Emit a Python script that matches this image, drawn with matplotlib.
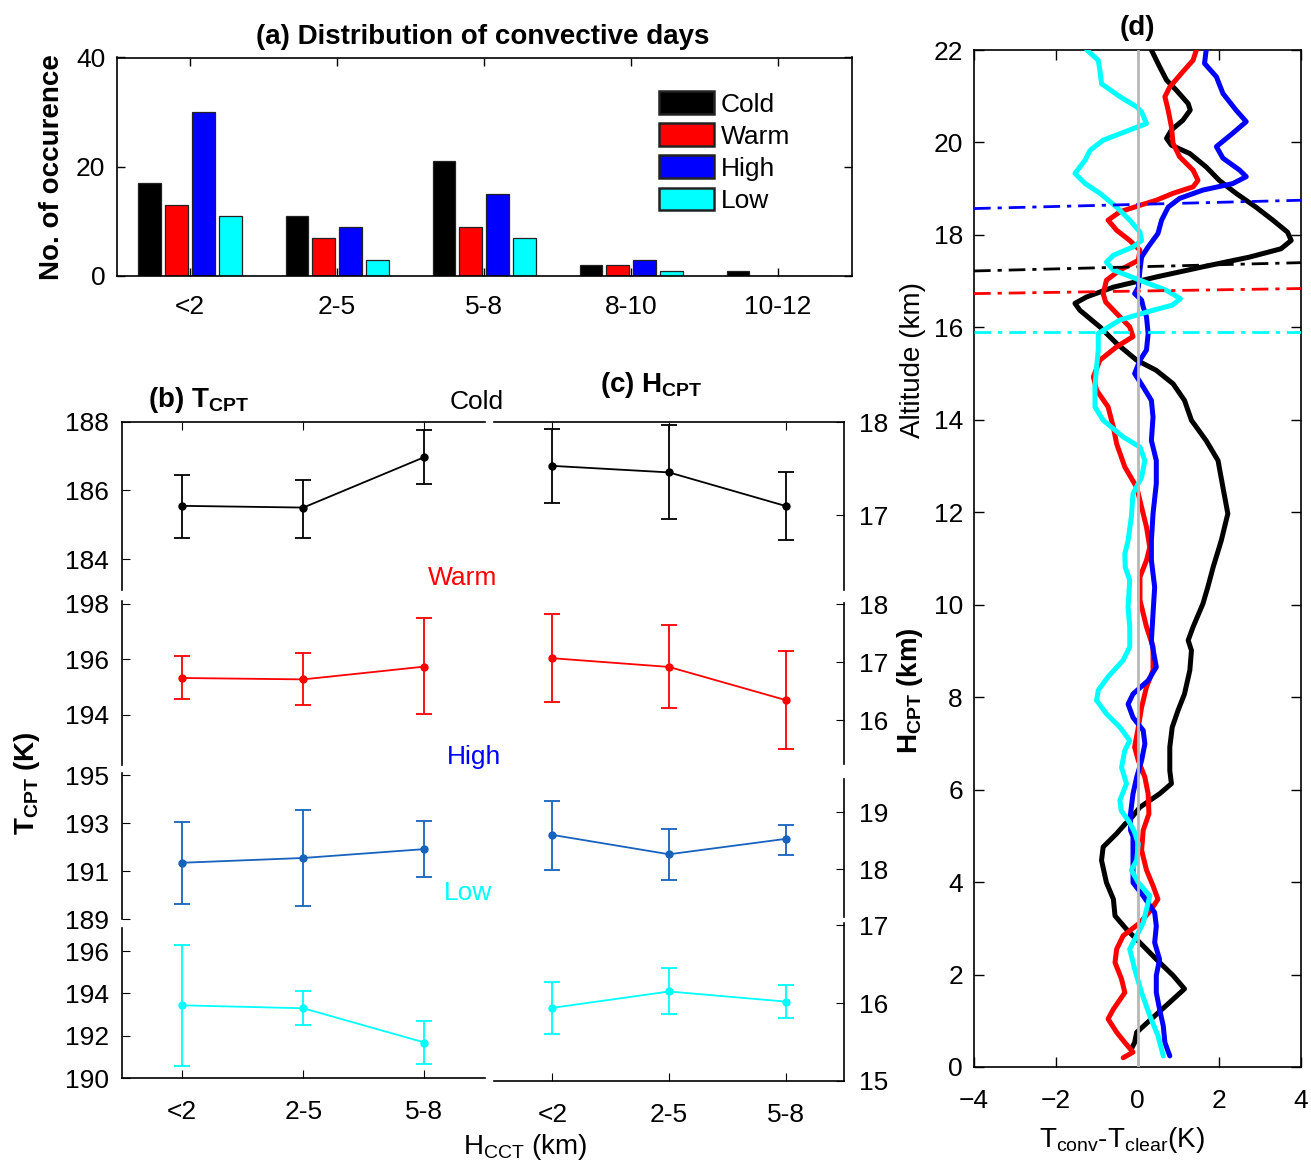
import numpy as np
import matplotlib
matplotlib.use('Agg')
import matplotlib.pyplot as plt

plt.rcParams['font.family'] = ['Liberation Sans', 'DejaVu Sans']
plt.rcParams['font.size'] = 19
plt.rcParams['mathtext.fontset'] = 'custom'
plt.rcParams['mathtext.rm'] = 'Liberation Sans'
plt.rcParams['mathtext.it'] = 'Liberation Sans:italic'
plt.rcParams['mathtext.bf'] = 'Liberation Sans:bold'

# ---- (a) distribution of convective days ----
bin_labels = ['<2', '2-5', '5-8', '8-10', '10-12']
cold_counts = [17, 11, 21, 2, 1]
warm_counts = [13, 7, 9, 2, 0]
high_counts = [30, 9, 15, 3, 0]
low_counts = [11, 3, 7, 1, 0]

# ---- (b) T_CPT and (c) H_CPT vs H_CCT ----
hcct_labels = ['<2', '2-5', '5-8']
tcpt_cold = [185.55, 185.50, 186.97]
tcpt_cold_lo = [184.60, 184.62, 186.18]
tcpt_cold_hi = [186.45, 186.30, 187.75]
tcpt_warm = [195.33, 195.28, 195.74]
tcpt_warm_lo = [194.57, 194.35, 194.02]
tcpt_warm_hi = [196.12, 196.22, 197.48]
tcpt_high = [191.35, 191.55, 191.92]
tcpt_high_lo = [189.61, 189.53, 190.74]
tcpt_high_hi = [193.05, 193.54, 193.09]
tcpt_low = [193.44, 193.30, 191.68]
tcpt_low_lo = [190.57, 192.50, 190.65]
tcpt_low_hi = [196.30, 194.10, 192.71]

hcpt_cold = [17.53, 17.46, 17.10]
hcpt_cold_lo = [17.13, 16.96, 16.74]
hcpt_cold_hi = [17.93, 17.97, 17.46]
hcpt_warm = [17.07, 16.92, 16.35]
hcpt_warm_lo = [16.31, 16.21, 15.51]
hcpt_warm_hi = [17.83, 17.65, 17.19]
hcpt_high = [18.60, 18.26, 18.53]
hcpt_high_lo = [17.98, 17.81, 18.25]
hcpt_high_hi = [19.19, 18.70, 18.77]
hcpt_low = [15.94, 16.15, 16.02]
hcpt_low_lo = [15.60, 15.86, 15.81]
hcpt_low_hi = [16.27, 16.45, 16.23]

# ---- (d) T_conv - T_clear profiles ----
alt_cold = [22.0, 21.64, 21.35, 21.13, 20.84, 20.7, 20.48, 20.27, 20.09, 19.94, 19.76, 19.47,
            19.18, 18.9, 18.6, 18.32, 18.06, 17.88, 17.7, 17.52, 17.31, 17.09, 16.87, 16.66,
            16.52, 16.37, 16.01, 15.65, 15.29, 15.07, 14.78, 14.42, 13.99, 13.55, 13.12, 12.54,
            11.97, 11.39, 10.81, 10.38, 10.02, 9.52, 9.23, 9.01, 8.58, 8.07, 7.71, 7.35, 6.92,
            6.41, 6.13, 5.91, 5.62, 5.41, 5.26, 5.05, 4.76, 4.47, 3.99, 3.63, 3.27, 2.98, 2.69,
            2.33, 1.98, 1.69, 1.4, 1.04, 0.75, 0.53, 0.39]
dt_cold = [0.34, 0.54, 0.71, 0.95, 1.24, 1.29, 1.11, 0.83, 0.71, 0.83, 1.28, 1.68,
           2.0, 2.41, 2.9, 3.31, 3.67, 3.76, 3.51, 2.74, 1.6, 0.46, -0.59, -1.24,
           -1.53, -1.41, -0.92, -0.51, -0.02, 0.46, 0.87, 1.15, 1.32, 1.68, 1.97, 2.09,
           2.21, 2.05, 1.85, 1.72, 1.6, 1.36, 1.24, 1.32, 1.28, 1.15, 0.99, 0.85, 0.79,
           0.79, 0.83, 0.54, 0.06, -0.13, -0.3, -0.51, -0.84, -0.88, -0.76, -0.59, -0.55, -0.27, 0.06,
           0.46, 0.87, 1.15, 0.79, 0.34, -0.02, -0.07, -0.15]

alt_warm = [22.0, 21.78, 21.49, 21.2, 20.99, 20.7, 20.34, 19.98, 19.69, 19.4, 19.18, 19.04,
            18.9, 18.75, 18.64, 18.5, 18.32, 18.1, 17.88, 17.67, 17.45, 17.24, 17.02, 16.73,
            16.55, 16.3, 16.01, 15.8, 15.58, 15.29, 14.93, 14.64, 14.28, 13.84, 13.48, 12.98,
            12.54, 12.11, 11.68, 11.24, 10.96, 10.6, 10.1, 9.52, 9.09, 8.58, 8.22, 7.78, 7.35,
            6.92, 6.63, 6.27, 5.91, 5.48, 5.12, 4.69, 4.26, 3.92, 3.63, 3.41, 3.12, 2.84, 2.55,
            2.26, 1.9, 1.61, 1.25, 1.04, 0.75, 0.53, 0.32, 0.2]
dt_warm = [1.44, 1.36, 1.07, 0.79, 0.67, 0.75, 0.83, 0.87, 1.03, 1.36, 1.48, 1.36,
           0.87, 0.46, 0.06, -0.43, -0.72, -0.51, -0.19, 0.06, 0.02, -0.43, -0.76, -0.84,
           -0.78, -0.51, -0.19, -0.11, -0.51, -0.92, -1.08, -1.0, -0.72, -0.59, -0.51, -0.31,
           -0.02, 0.1, 0.22, 0.3, 0.22, 0.06, 0.06, 0.22, 0.38, 0.38, 0.22, 0.1, 0.02,
           -0.07, 0.02, 0.18, 0.26, 0.28, 0.14, 0.1, 0.22, 0.38, 0.5, 0.34, 0.06, -0.35, -0.51,
           -0.55, -0.39, -0.31, -0.59, -0.72, -0.51, -0.31, -0.11, -0.35]

alt_high = [22.0, 21.71, 21.42, 21.06, 20.7, 20.45, 20.2, 19.91, 19.66, 19.4, 19.26, 19.11,
            18.97, 18.79, 18.6, 18.32, 18.03, 17.74, 17.52, 17.24, 16.87, 16.73, 16.59, 16.44,
            16.23, 15.87, 15.51, 15.29, 15.0, 14.71, 14.42, 14.06, 13.55, 13.12, 12.62, 11.97,
            11.39, 10.96, 10.38, 9.81, 9.23, 8.65, 8.36, 8.07, 7.85, 7.56, 7.28, 6.99, 6.63,
            6.27, 5.91, 5.48, 5.12, 4.98, 4.47, 3.99, 3.7, 3.34, 3.05, 2.69, 2.33, 1.98, 1.61,
            1.25, 0.89, 0.53, 0.24]
dt_high = [1.68, 1.64, 1.93, 2.09, 2.41, 2.66, 2.33, 1.93, 2.09, 2.5, 2.66, 2.33,
           1.6, 1.03, 0.75, 0.59, 0.5, 0.26, 0.1, 0.06, 0.02, -0.07, 0.1, 0.14,
           0.22, 0.26, 0.22, 0.06, -0.07, 0.14, 0.34, 0.38, 0.34, 0.46, 0.46, 0.38,
           0.34, 0.34, 0.42, 0.38, 0.34, 0.46, 0.26, -0.11, -0.23, -0.11, 0.14, 0.18, 0.1,
           -0.02, -0.11, -0.17, -0.17, -0.11, -0.11, -0.11, 0.14, 0.42, 0.46, 0.42, 0.54, 0.46, 0.46,
           0.54, 0.63, 0.67, 0.79]

alt_low = [22.0, 21.78, 21.56, 21.27, 20.99, 20.77, 20.66, 20.41, 20.27, 20.05, 19.83, 19.62,
           19.33, 19.11, 18.9, 18.6, 18.32, 18.06, 17.88, 17.74, 17.56, 17.41, 17.24, 17.02,
           16.8, 16.62, 16.48, 16.37, 16.16, 15.87, 15.51, 15.15, 14.71, 14.28, 13.99, 13.63,
           13.41, 13.12, 12.76, 12.4, 11.9, 11.39, 11.1, 10.81, 10.53, 9.95, 9.52, 9.09, 8.8,
           8.44, 8.15, 7.93, 7.64, 7.35, 7.06, 6.85, 6.48, 6.13, 5.77, 5.55, 5.3, 5.1, 4.83,
           4.47, 4.26, 3.99, 3.7, 3.41, 3.12, 2.84, 2.55, 2.12, 1.61, 1.11, 0.68, 0.24]
dt_low = [-1.24, -0.96, -0.92, -0.88, -0.43, -0.02, 0.1, 0.22, -0.19, -0.84, -1.16, -1.28,
          -1.53, -1.28, -0.92, -0.51, -0.19, 0.06, 0.1, -0.11, -0.59, -0.76, -0.59, 0.06,
          0.71, 1.05, 0.85, 0.38, -0.43, -0.96, -0.96, -1.0, -1.04, -1.04, -0.84, -0.35,
          0.06, 0.18, 0.1, -0.11, -0.15, -0.23, -0.31, -0.3, -0.19, -0.23, -0.19, -0.19, -0.35,
          -0.72, -0.96, -1.0, -0.76, -0.43, -0.19, -0.31, -0.39, -0.27, -0.43, -0.4, -0.2, -0.08, 0.02,
          -0.02, -0.15, 0.02, 0.3, 0.22, 0.14, -0.02, -0.19, -0.07, 0.1, 0.3, 0.5, 0.63]

# cold-point heights drawn as dash-dot lines (left / right ends)
cpt_left = [17.22, 16.73, 18.57, 15.90]
cpt_right = [17.40, 16.84, 18.75, 15.90]

group_names = ['Cold', 'Warm', 'High', 'Low']
bar_colors = ['black', '#ff0000', '#0000ff', '#00ffff']
err_colors = ['black', '#ff0000', '#1662bd', '#00ffff']
label_colors = ['black', '#ff0000', '#0000ff', '#00ffff']
prof_colors = ['black', '#ff0000', '#0000ff', '#00ffff']

W, H = 1311, 1168
fig = plt.figure(figsize=(W / 100, H / 100), dpi=100)


def rect(l, t, r, b):
    return [l / W, 1 - b / H, (r - l) / W, (b - t) / H]


# ---------------- panel (a) ----------------
ax = fig.add_axes(rect(116.5, 57.5, 851.7, 276))
x = np.arange(1, 6)
counts = [cold_counts, warm_counts, high_counts, low_counts]
for i in range(4):
    ax.bar(x + (i - 1.5) * 0.182, counts[i], width=0.155, color=bar_colors[i],
           edgecolor='#222222', linewidth=0.9, label=group_names[i])
ax.set_xlim(0.5, 5.5)
ax.set_ylim(0, 40)
ax.set_yticks([0, 20, 40])
ax.set_xticks(x)
ax.set_xticklabels(bin_labels)
ax.tick_params(direction='in', top=True, right=True, length=6, width=1)
ax.tick_params(axis='x', pad=14)
ax.tick_params(axis='y', pad=8)
for s in ax.spines.values():
    s.set_linewidth(1.2)
leg = ax.legend(loc='upper left', bbox_to_anchor=(0.738, 0.845), frameon=False,
                borderpad=0, borderaxespad=0, handlelength=2.1, handleheight=0.95,
                labelspacing=0.25, handletextpad=0.25, fontsize=19)
for p in leg.get_patches():
    p.set_linewidth(1.8)
fig.text(483 / W, 1 - 37 / H, '(a) Distribution of convective days', fontsize=20,
         fontweight='bold', ha='center', va='center')
fig.text(52 / W, 1 - 167 / H, 'No. of occurence', fontsize=20, fontweight='bold',
         rotation=90, ha='center', va='center')

# ---------------- panels (b) and (c) ----------------
b_rows = [(421.7, 590), (601, 765), (773, 919), (928, 1078)]
c_rows = [(422, 590), (603, 764), (779, 917), (923, 1081)]
b_ylims = [(183.1, 188.0), (192.2, 198.1), (189.1, 195.1), (190.0, 197.1)]
c_ylims = [(16.2, 18.0), (15.25, 18.02), (17.16, 19.58), (15.0, 17.03)]
b_ticks = [[184, 186, 188], [194, 196, 198], [189, 191, 193, 195], [190, 192, 194, 196]]
c_ticks = [[17, 18], [16, 17, 18], [18, 19], [15, 16, 17]]
tcpt = [(tcpt_cold, tcpt_cold_lo, tcpt_cold_hi), (tcpt_warm, tcpt_warm_lo, tcpt_warm_hi),
        (tcpt_high, tcpt_high_lo, tcpt_high_hi), (tcpt_low, tcpt_low_lo, tcpt_low_hi)]
hcpt = [(hcpt_cold, hcpt_cold_lo, hcpt_cold_hi), (hcpt_warm, hcpt_warm_lo, hcpt_warm_hi),
        (hcpt_high, hcpt_high_lo, hcpt_high_hi), (hcpt_low, hcpt_low_lo, hcpt_low_hi)]
xc = np.arange(1, 4)

for i in range(4):
    for side in ['b', 'c']:
        if side == 'b':
            t, b = b_rows[i]
            axx = fig.add_axes(rect(121.7, t, 485, b))
            m, lo, hi = tcpt[i]
            ylim, ticks = b_ylims[i], b_ticks[i]
        else:
            t, b = c_rows[i]
            axx = fig.add_axes(rect(494, t, 844, b))
            m, lo, hi = hcpt[i]
            ylim, ticks = c_ylims[i], c_ticks[i]
        m = np.array(m)
        yerr = [m - np.array(lo), np.array(hi) - m]
        axx.errorbar(xc, m, yerr=yerr, color=err_colors[i], marker='o', ms=5,
                     lw=1.3, elinewidth=1.3, capsize=6, capthick=1.3)
        axx.set_facecolor('none')
        axx.set_xlim(0.5, 3.5)
        axx.set_ylim(*ylim)
        axx.set_yticks(ticks)
        axx.set_xticks(xc)
        axx.set_xticklabels(hcct_labels)
        axx.spines['top'].set_visible(i == 0)
        axx.spines['bottom'].set_visible(i == 3)
        axx.spines['left'].set_visible(side == 'b')
        axx.spines['right'].set_visible(side == 'c')
        for s in axx.spines.values():
            s.set_linewidth(1.2)
        axx.tick_params(axis='x', direction='in', top=(i == 0), bottom=(i == 3),
                        labelbottom=(i == 3), length=6, pad=16)
        if side == 'b':
            axx.tick_params(axis='y', direction='in', left=True, right=False,
                            length=6, pad=9)
        else:
            axx.yaxis.tick_right()
            axx.tick_params(axis='y', direction='in', left=False, right=True,
                            length=6, pad=11)

row_label_pos = [(477, 402), (463, 578), (474, 757), (468, 893)]
for i in range(4):
    px, py = row_label_pos[i]
    fig.text(px / W, 1 - py / H, group_names[i], color=label_colors[i], fontsize=19,
             ha='center', va='center')

fig.text(148 / W, 1 - 400 / H, r'(b) $\mathbf{T_{CPT}}$', fontsize=20, fontweight='bold',
         ha='left', va='center')
fig.text(600 / W, 1 - 385 / H, r'(c) $\mathbf{H_{CPT}}$', fontsize=20, fontweight='bold',
         ha='left', va='center')
fig.text(27 / W, 1 - 783 / H, r'$\mathbf{T_{CPT}}$ (K)', fontsize=20, fontweight='bold',
         rotation=90, ha='center', va='center')
fig.text(910 / W, 1 - 691 / H, r'$\mathbf{H_{CPT}}$ (km)', fontsize=20, fontweight='bold',
         rotation=90, ha='center', va='center')
fig.text(525 / W, 1 - 1147 / H, r'H$_{\rm CCT}$ (km)', fontsize=20, ha='center', va='center')

# ---------------- panel (d) ----------------
axd = fig.add_axes(rect(974, 50, 1301, 1067))
profiles = [(dt_cold, alt_cold), (dt_warm, alt_warm), (dt_high, alt_high), (dt_low, alt_low)]
xlim_d = [-4, 4]
for i in range(4):
    dt, alt = profiles[i]
    axd.plot(dt, alt, color=prof_colors[i], lw=3.6, solid_joinstyle='round',
             solid_capstyle='round', zorder=3)
for i in range(4):
    axd.plot(xlim_d, [cpt_left[i], cpt_right[i]], color=prof_colors[i], lw=2,
             linestyle=(0, (6, 2.5, 1.5, 2.5)), zorder=4)
axd.axvline(0, color='#b8b8b8', lw=2, zorder=5)
axd.set_xlim(*xlim_d)
axd.set_ylim(0, 22)
axd.set_xticks(np.arange(-4, 5, 2))
axd.set_yticks(np.arange(0, 23, 2))
axd.tick_params(direction='in', top=True, right=True, length=7, width=1)
axd.tick_params(axis='x', pad=16)
axd.tick_params(axis='y', pad=8)
for s in axd.spines.values():
    s.set_linewidth(1.2)
fig.text(1137 / W, 1 - 28 / H, '(d)', fontsize=20, fontweight='bold', ha='center', va='center')
fig.text(913 / W, 1 - 360 / H, 'Altitude (km)', fontsize=20, rotation=90,
         ha='center', va='center')
fig.text(1122 / W, 1 - 1140 / H, r'T$_{\rm conv}$-T$_{\rm clear}$(K)', fontsize=20,
         ha='center', va='center')

fig.savefig('out.png', dpi=100)
